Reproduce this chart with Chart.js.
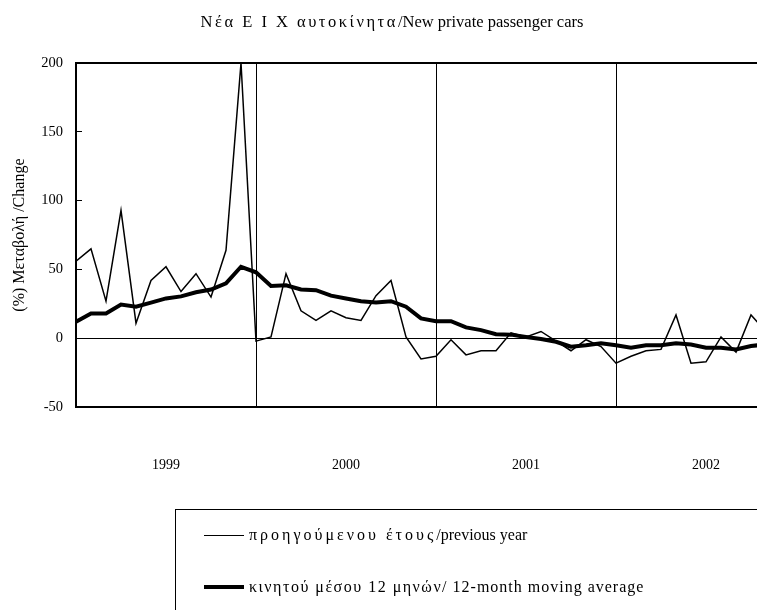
<!DOCTYPE html>
<html>
<head>
<meta charset="utf-8">
<script src="https://cdn.jsdelivr.net/npm/chart.js@4/dist/chart.umd.min.js"></script>
<style>
  html, body { margin: 0; padding: 0; background: #fff; overflow: hidden; }
  #wrap { position: relative; width: 757px; height: 610px; }
  #c { position: absolute; left: 0; top: 0; }
  #title { position: absolute; left: 0; width: 784px; top: 12px; text-align: center;
           font-family: "Liberation Serif", serif; font-size: 16.5px; color: #000; white-space: nowrap; }
  .gr { letter-spacing: 2.5px; }
  #legend { position: absolute; left: 175px; top: 509px; width: 700px; height: 200px;
            border-left: 1px solid #000; border-top: 1px solid #000;
            font-family: "Liberation Serif", serif; font-size: 16px; color: #000; white-space: nowrap; }
  .row { position: absolute; left: 28px; height: 20px; }
  .sample { position: absolute; left: 0; width: 40px; background: #000; }
  .txt { position: absolute; left: 45px; top: 0; line-height: 20px; }
</style>
</head>
<body>
<div id="wrap">
  <canvas id="c" width="757" height="610"></canvas>
  <div id="title"></div>
  <div id="legend"></div>
</div>
<script>
// ---- data ----
const chartTitle = ["Νέα  Ε Ι Χ αυτοκίνητα", "/New private passenger cars"];
const yAxisTitle = "(%) Μεταβολή /Change";
const yearLabels = ["1999", "2000", "2001", "2002"];
const seriesNames = [
  ["προηγούμενου έτους", "/previous year"],
  ["κινητού μέσου 12 μηνών", "/ 12-month moving average"]
];
// monthly, Jan 1999 onwards
const yoyChange = [56, 65, 27, 93, 11, 42, 52, 34, 47, 30, 64, 200,
                   -2, 1, 47, 20, 13, 20, 15, 13, 31, 42, 1, -15,
                   -13, -1, -12, -9, -9, 4, 1, 5, -2, -9, -1, -6,
                   -18, -13, -9, -8, 17, -18, -17, 1, -10, 17, 5];
const movingAvg = [12, 18, 18, 24.5, 23, 26, 29, 30.5, 33.5, 35.5, 40, 52,
                   48, 38, 38.5, 35.5, 35, 31, 29, 27, 26, 27, 23, 14.5,
                   12.5, 12.5, 8, 6, 3, 2.7, 1, -0.5, -2.5, -6, -5, -3.5,
                   -5, -6.8, -5, -5, -3.5, -4.5, -6.8, -6.8, -8, -5.5, -4.5];
const yMin = -50, yMax = 200, yStep = 50;
const monthsPerYear = 12;
const visibleMonths = 45.4;

// ---- html text ----
document.getElementById('title').innerHTML =
  '<span class="gr">' + chartTitle[0] + '</span>' + chartTitle[1];
const lg = document.getElementById('legend');
const sampleH = [1, 4], rowTop = [15, 67];
const greekSpacing = [3, 1.5], latinSpacing = [0, 1];
seriesNames.forEach((n, i) => {
  const r = document.createElement('div');
  r.className = 'row';
  r.style.top = rowTop[i] + 'px';
  r.innerHTML = '<div class="sample" style="top:' + (10 - sampleH[i] / 2) + 'px;height:' + sampleH[i] + 'px"></div>' +
    '<div class="txt"><span style="letter-spacing:' + greekSpacing[i] + 'px">' + n[0] + '</span>' +
    '<span style="letter-spacing:' + latinSpacing[i] + 'px">' + n[1] + '</span></div>';
  lg.appendChild(r);
});

// ---- chart ----
const toPts = arr => arr.map((v, i) => ({x: i, y: v}));
const serif = "'Liberation Serif', 'Times New Roman', serif";

new Chart(document.getElementById('c'), {
  type: 'line',
  data: {
    datasets: [
      { label: seriesNames[0].join(''), data: toPts(yoyChange), borderColor: '#000',
        borderWidth: 1.5, pointRadius: 0, tension: 0, order: 1, fill: false },
      { label: seriesNames[1].join(''), data: toPts(movingAvg), borderColor: '#000',
        borderWidth: 4, pointRadius: 0, tension: 0, order: 0, fill: false }
    ]
  },
  options: {
    responsive: false,
    animation: false,
    devicePixelRatio: 1,
    layout: { padding: { left: 0, right: 0, top: 63, bottom: 86 } },
    plugins: { legend: { display: false }, title: { display: false }, tooltip: { enabled: false } },
    scales: {
      x: {
        type: 'linear',
        min: 0, max: visibleMonths,
        afterBuildTicks: ax => {
          ax.ticks = yearLabels.map((_, i) => ({ value: i * monthsPerYear }));
        },
        ticks: {
          autoSkip: false, maxRotation: 0, minRotation: 0,
          padding: 50, labelOffset: 90,
          color: '#000', font: { family: serif, size: 14 },
          callback: (v) => yearLabels[Math.round(v / monthsPerYear)]
        },
        grid: { color: '#000', lineWidth: 1, drawTicks: false },
        border: { display: true, color: '#000', width: 2 }
      },
      y: {
        min: yMin, max: yMax,
        afterFit: s => { s.width = 76; },
        ticks: { stepSize: yStep, padding: 19, color: '#000', font: { family: serif, size: 14.5 } },
        grid: {
          color: c => (c.tick && (c.tick.value === 0 || c.tick.value === yMax)) ? '#000' : 'rgba(0,0,0,0)',
          lineWidth: c => (c.tick && c.tick.value === yMax) ? 2 : 1,
          drawTicks: true, tickLength: -6, tickColor: '#000', tickWidth: 1
        },
        border: { display: true, color: '#000', width: 2 },
        title: { display: true, text: yAxisTitle, color: '#000',
                 font: { family: serif, size: 16 }, padding: { top: 10, bottom: 0 } }
      }
    }
  }
});
</script>
</body>
</html>
